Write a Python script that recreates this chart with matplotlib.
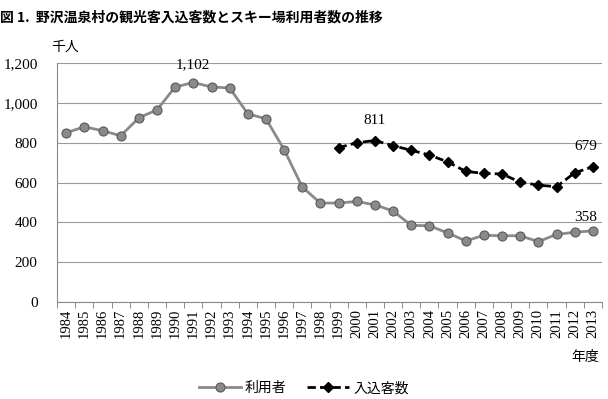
import matplotlib
matplotlib.use('Agg')
import matplotlib.pyplot as plt
import numpy as np

years = list(range(1984, 2014))
riyousha = [850, 880, 860, 835, 925, 965, 1080, 1102, 1080, 1075,
            945, 920, 765, 577, 497, 497, 505, 488, 457, 385,
            383, 347, 307, 335, 333, 333, 303, 340, 350, 358]
irikomi_years = list(range(1999, 2014))
irikomi = [775, 800, 811, 785, 762, 738, 704, 656, 646, 643,
           602, 587, 579, 649, 679]
yticks = [0, 200, 400, 600, 800, 1000, 1200]

jp = ['Noto Sans CJK JP', 'DejaVu Sans']
serif = 'Liberation Serif'

fig = plt.figure(figsize=(6.08, 3.99), dpi=100)
ax = fig.add_axes([0.094, 0.243, 0.896, 0.599])

x = np.arange(len(years))
xi = np.array([years.index(y) for y in irikomi_years])

ax.plot(x, riyousha, color='#8a8a8a', lw=2, marker='o', ms=6.5,
        mfc='#8a8a8a', mec='#5a5a5a', mew=0.8, label='利用者', zorder=3)
ax.plot(xi, irikomi, color='black', lw=2, ls=(0, (3, 1.5)), marker='D', ms=5.5,
        mfc='black', mec='black', label='入込客数', zorder=3)

ax.set_xlim(-0.5, len(years) - 0.5)
ax.set_ylim(0, 1200)
ax.set_yticks(yticks)
ax.set_yticklabels([f'{v:,}' for v in yticks], fontfamily=serif, fontsize=11)
ax.set_xticks(x)
ax.set_xticklabels([str(y) for y in years], rotation=90, fontfamily=serif, fontsize=10.5)
ax.tick_params(axis='x', length=0, pad=5)
ax.tick_params(axis='y', length=0, pad=14)
ax.set_xticks(np.arange(-0.5, len(years)), minor=True)
ax.tick_params(axis='x', which='minor', length=4, color='#777777', direction='out')

ax.grid(axis='y', color='#9a9a9a', lw=0.8)
ax.set_axisbelow(True)
for s in ['top', 'right']:
    ax.spines[s].set_visible(False)
for s in ['left', 'bottom']:
    ax.spines[s].set_color('#8a8a8a')

# labels
i91 = years.index(1991)
ax.annotate('1,102', (i91, riyousha[i91]), xytext=(0, 8), textcoords='offset points',
            ha='center', va='bottom', fontfamily=serif, fontsize=11)
ax.annotate('811', (years.index(2001), irikomi[irikomi_years.index(2001)]), xytext=(0, 10),
            textcoords='offset points', ha='center', va='bottom', fontfamily=serif, fontsize=11)
ax.annotate('679', (x[-1], irikomi[-1]), xytext=(-5, 10), textcoords='offset points',
            ha='center', va='bottom', fontfamily=serif, fontsize=11)
ax.annotate('358', (x[-1], riyousha[-1]), xytext=(-5, 5), textcoords='offset points',
            ha='center', va='bottom', fontfamily=serif, fontsize=11)

fig.text(0.0, 0.955, '図 1.  野沢温泉村の観光客入込客数とスキー場利用者数の推移',
         fontfamily=jp, fontsize=10, fontweight='bold', va='center')
fig.text(0.085, 0.882, '千人', fontfamily=jp, fontsize=10, va='center')
fig.text(0.985, 0.105, '年度', fontfamily=jp, fontsize=10, va='center', ha='right')

leg = fig.legend(loc='center', bbox_to_anchor=(0.5, 0.027), ncol=2, frameon=False,
                 prop={'family': jp, 'size': 10}, handlelength=3, columnspacing=1.5,
                 handletextpad=0.3)

fig.savefig('out.png', dpi=100)
